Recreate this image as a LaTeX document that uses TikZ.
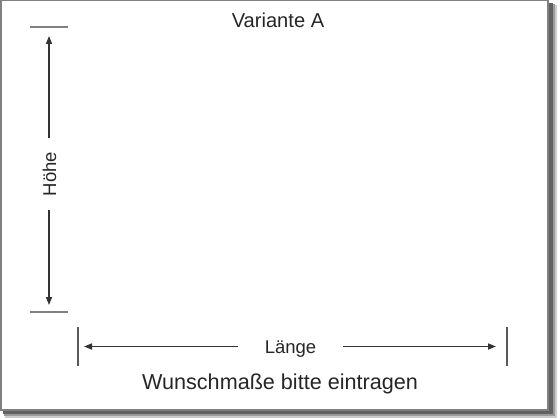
\documentclass[tikz,border=0pt]{standalone}
\usepackage{fontspec}
\setmainfont{Liberation Sans}
\usetikzlibrary{arrows.meta}

\begin{document}
\begin{tikzpicture}[line cap=butt,line join=miter,>={Triangle[length=8pt,width=6pt]},x=1pt,y=-1pt,
    pfeil/.style={->, line width=1.6pt, draw=black!80},
    marke/.style={line width=1.3pt, draw=black!50},
    marke2/.style={line width=1.3pt, draw=black!65},
    text=black!85]
                    \useasboundingbox (0,0) rectangle (560,420);

                    % Schatten und Rahmen
                    \fill[black!20] (5,5) rectangle (557,418);
                    \fill[black!40] (4,4) rectangle (555,416);
                    \fill[black!62] (3,3) rectangle (552.5,413.5);
                    \draw[line width=1.5pt, draw=black!50, fill=white] (0.75,0.75) rectangle (548,410);

                    \node[anchor=base, font=\fontsize{20.1}{23}\selectfont] (titel) at (278,28) {Variante A};

                    % Hoehe
                    \draw[marke] (30,27) -- (68,27);
                    \draw[marke] (30,312) -- (68,312);
                    \coordinate (hoben) at (49,36);
                    \coordinate (hunten) at (49,305);
                    \node[rotate=90, inner xsep=14pt, font=\fontsize{18.5}{21}\selectfont] (hoehe) at (49.5,174) {Höhe};
                    \draw[pfeil] (hoehe.east -| hoben) -- (hoben);
                    \draw[pfeil] (hoehe.west -| hunten) -- (hunten);

                    % Laenge
                    \draw[marke2] (78,327) -- (78,366);
                    \draw[marke2] (507,327) -- (507,366);
                    \coordinate (llinks) at (84,346.5);
                    \coordinate (lrechts) at (496,346.5);
                    \node[inner xsep=26.5pt, font=\fontsize{18.5}{21}\selectfont] (laenge) at (290.5,349.5) {Länge};
                    \draw[pfeil] (laenge.west |- llinks) -- (llinks);
                    \draw[pfeil] (laenge.east |- lrechts) -- (lrechts);

                    \node[anchor=base, font=\fontsize{21.6}{25}\selectfont] (wunsch) at (280,389.5) {Wunschmaße bitte eintragen};
                \end{tikzpicture}
\end{document}
